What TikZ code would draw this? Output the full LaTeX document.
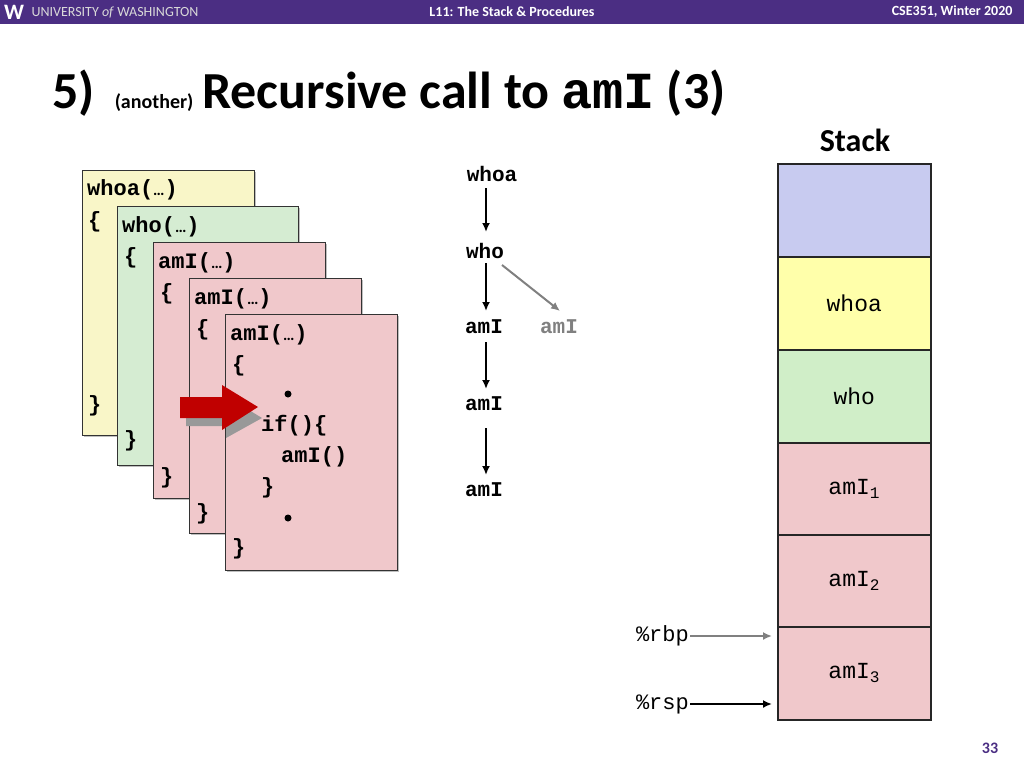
\documentclass[tikz,border=0pt]{standalone}
\usepackage{fontspec}
\usetikzlibrary{shadows,arrows.meta}
\setmainfont{Carlito}
\newfontfamily\cmono{Liberation Mono}
\begin{document}
\begin{tikzpicture}[x=1pt,y=-1pt,
 frame/.style={draw=black!80,line width=1pt,drop shadow={shadow xshift=2pt,shadow yshift=-2pt,opacity=0.5}},
 code/.style={font=\cmono\bfseries\fontsize{22}{24}\selectfont,anchor=west,inner sep=0},
 tree/.style={font=\cmono\bfseries\fontsize{21}{24}\selectfont,inner sep=1pt},
 cell/.style={draw=black!85,line width=1.5pt,minimum width=153pt,minimum height=93pt,font=\cmono\fontsize{23}{25}\selectfont,anchor=north west},
 tarr/.style={-{Latex[length=9pt,width=8pt]},line width=2pt}]
\useasboundingbox (0,0) rectangle (1024,768);
\fill[fill={rgb,255:red,75;green,46;blue,131}] (0,0) rectangle (1024,24);
\node[font=\fontsize{22}{22}\selectfont\bfseries,text=white,anchor=west,inner sep=0] (wlogo) at (4,12) {W};
\node[font=\fontsize{14}{14}\selectfont,text=white!85!black,anchor=west] (uw) at (28,13) {UNIVERSITY \textit{of} WASHINGTON};
\node[font=\fontsize{14}{14}\selectfont\bfseries,text=white] (lec) at (512,12) {L11: The Stack \& Procedures};
\node[font=\fontsize{14}{14}\selectfont\bfseries,text=white,anchor=east] (crs) at (1016,12) {CSE351, Winter 2020};
\node[anchor=west,inner sep=0] (title) at (52,93) {\fontsize{52}{52}\selectfont\bfseries 5)\hspace{20pt}{\fontsize{20}{20}\selectfont(another)}\,Recursive call to {\cmono amI} (3)};
% code frames
\filldraw[frame,fill={rgb,255:red,249;green,246;blue,200}] (82,170) rectangle (254,435);
\node[code] (c1) at (87,190) {whoa(\textnormal{\fontsize{16}{16}\selectfont\bfseries …})};
\node[code] (c1b) at (88,222) {\{};
\node[code] (c1e) at (88,406) {\}};
\filldraw[frame,fill={rgb,255:red,213;green,236;blue,210}] (117,206) rectangle (298,465);
\node[code] (c2) at (122,227) {who(\textnormal{\fontsize{16}{16}\selectfont\bfseries …})};
\node[code] (c2b) at (124,258) {\{};
\node[code] (c2e) at (124,441) {\}};
\filldraw[frame,fill={rgb,255:red,240;green,200;blue,203}] (153,242) rectangle (325,498);
\node[code] (c3) at (158,263) {amI(\textnormal{\fontsize{16}{16}\selectfont\bfseries …})};
\node[code] (c3b) at (160,294) {\{};
\node[code] (c3e) at (160,478) {\}};
\filldraw[frame,fill={rgb,255:red,240;green,200;blue,203}] (189,278) rectangle (361,533);
\node[code] (c4) at (194,299) {amI(\textnormal{\fontsize{16}{16}\selectfont\bfseries …})};
\node[code] (c4b) at (196,330) {\{};
\node[code] (c4e) at (196,514) {\}};
\filldraw[frame,fill={rgb,255:red,240;green,200;blue,203}] (225,314) rectangle (397,570);
\node[code] (c5) at (230,335) {amI(\textnormal{\fontsize{16}{16}\selectfont\bfseries …})};
\node[code] (c5b) at (232,366) {\{};
\fill (288,394) circle (3.5pt);
\node[code] (c5i) at (261,426) {if()\{};
\node[code] (c5c) at (281,457) {amI()};
\node[code] (c5d) at (261,488) {\}};
\fill (288,518) circle (3.5pt);
\node[code] (c5e) at (232,549) {\}};
% red arrow
\fill[gray!80] (186,408) -- (226,408) -- (226,396) -- (262,418) -- (226,438) -- (226,426) -- (186,426) -- cycle;
\fill[fill={rgb,255:red,192;green,0;blue,0}] (180,397) -- (222,397) -- (222,385) -- (258,407) -- (222,430) -- (222,418) -- (180,418) -- cycle;
% call tree
\node[tree] (t1) at (492,174) {whoa};
\node[tree] (t2) at (485,251) {who};
\node[tree] (t3) at (484,327) {amI};
\node[tree,text=gray] (t3b) at (559,327) {amI};
\node[tree] (t4) at (484,404) {amI};
\node[tree] (t5) at (484,490) {amI};
\draw[tarr] (486,188) -- (486,232);
\draw[tarr] (486,263) -- (486,311);
\draw[tarr] (486,342) -- (486,389);
\draw[tarr] (486,428) -- (486,475);
\draw[tarr,gray] (502,265) -- (560,311);
% stack
\node[font=\fontsize{32}{32}\selectfont\bfseries] (stk) at (855,140) {Stack};
\node[cell,fill={rgb,255:red,200;green,203;blue,240}] (s0) at (777,163) {};
\node[cell,fill={rgb,255:red,255;green,255;blue,170}] (s1) at (777,256) {whoa};
\node[cell,fill={rgb,255:red,208;green,238;blue,200}] (s2) at (777,349) {who};
\node[cell,fill={rgb,255:red,240;green,200;blue,203}] (s3) at (777,442) {amI\textsubscript{1}};
\node[cell,fill={rgb,255:red,240;green,200;blue,203}] (s4) at (777,534) {amI\textsubscript{2}};
\node[cell,fill={rgb,255:red,240;green,200;blue,203}] (s5) at (777,626) {amI\textsubscript{3}};
\node[font=\cmono\fontsize{22}{24}\selectfont,anchor=east,inner sep=1pt] (rbp) at (690,636) {\%rbp};
\node[font=\cmono\fontsize{22}{24}\selectfont,anchor=east,inner sep=1pt] (rsp) at (690,704) {\%rsp};
\coordinate (rbpT) at (772,636);
\coordinate (rspT) at (772,704);
\draw[tarr,gray] (rbp.east) -- (rbpT);
\draw[tarr] (rsp.east) -- (rspT);
\node[font=\fontsize{16}{16}\selectfont\bfseries,text={rgb,255:red,75;green,46;blue,131}] (pg) at (990,748) {33};
\end{tikzpicture}
\end{document}
